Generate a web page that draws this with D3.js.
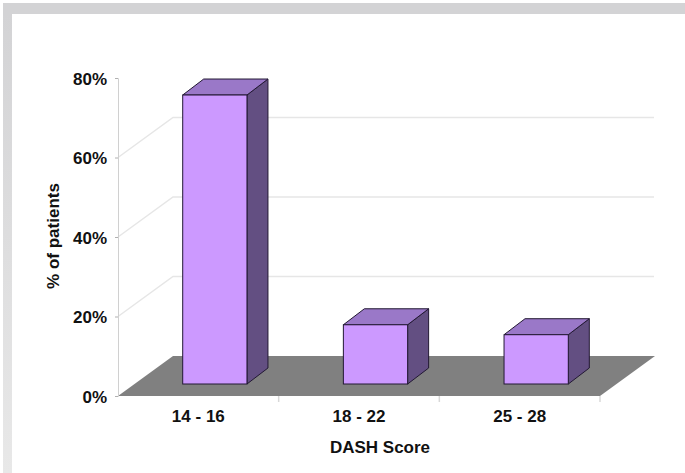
<!DOCTYPE html>
<html>
<head>
<meta charset="utf-8">
<script src="https://cdn.jsdelivr.net/npm/d3@7"></script>
<style>
  body { margin: 0; background: #fff; }
  text { font-family: Arial, "Liberation Sans", sans-serif; font-weight: bold; fill: #111; }
</style>
</head>
<body>
<div id="chartContainer"></div>
<script>
// chart data
var categories = ["14 - 16", "18 - 22", "25 - 28"];
var percentages = [0.727, 0.149, 0.124];
var tickValues = [0, 0.2, 0.4, 0.6, 0.8];
var gridValues = [0.2, 0.4, 0.6];

function init() {
    var w = 685;
    var h = 473;

    var svg = d3.select("#chartContainer")
                .append("svg")
                .attr("width", w)
                .attr("height", h);

    // gray frame (top + left, left one fades out downwards)
    var defs = svg.append("defs");
    var grad = defs.append("linearGradient")
                   .attr("id", "leftFade")
                   .attr("x1", 0).attr("y1", 0).attr("x2", 0).attr("y2", 1);
    grad.append("stop").attr("offset", "0%").attr("stop-color", "#d3d3d5");
    grad.append("stop").attr("offset", "100%").attr("stop-color", "#e8e8e8");

    svg.append("rect").attr("x", 3).attr("y", 3).attr("width", w - 3).attr("height", 11)
       .attr("fill", "#d3d3d5");
    svg.append("rect").attr("x", 3).attr("y", 14).attr("width", 9).attr("height", h - 14)
       .attr("fill", "url(#leftFade)");

    // scales
    var x = d3.scaleBand()
              .domain(categories)
              .range([118, 600]);

    var y = d3.scaleLinear()
              .domain([0, 0.8])
              .range([396, 78]);

    // 3D depth of the floor
    var depthX = 55, depthY = -40;
    var backRight = 654;

    // gridlines: diagonal on left wall, then flat along back wall
    svg.append("g")
       .selectAll("path")
       .data(gridValues)
       .enter()
       .append("path")
       .attr("d", d => "M" + x.range()[0] + "," + y(d) +
                       "L" + (x.range()[0] + depthX) + "," + (y(d) + depthY) +
                       "H" + backRight)
       .attr("fill", "none")
       .attr("stroke", "#e6e6e6")
       .attr("stroke-width", 1.5);

    // floor
    var x0 = x.range()[0], x1 = x.range()[1];
    svg.append("path")
       .attr("d", "M" + x0 + "," + y(0) +
                  "L" + (x0 + depthX) + "," + (y(0) + depthY) +
                  "L" + (x1 + depthX) + "," + (y(0) + depthY) +
                  "L" + x1 + "," + y(0) + "Z")
       .attr("fill", "#808080");

    // y axis
    var yAxis = d3.axisLeft(y)
                  .tickValues(tickValues)
                  .tickSize(3)
                  .tickPadding(8)
                  .tickFormat(d3.format(".0%"));

    var gy = svg.append("g")
                .attr("transform", "translate(" + x0 + ",0)")
                .call(yAxis);
    gy.select(".domain").attr("stroke", "#d0d0d0");
    gy.selectAll(".tick line").attr("stroke", "#b0b0b0");
    gy.selectAll(".tick text")
      .style("font-size", "17px")
      .attr("dy", "0.36em");

    // x axis
    var xAxis = d3.axisBottom(x)
                  .tickSize(0)
                  .tickPadding(14);
    var gx = svg.append("g")
                .attr("transform", "translate(0," + y(0) + ")")
                .call(xAxis);
    gx.select(".domain").remove();
    gx.selectAll(".tick text").style("font-size", "17px");

    // small separator ticks between categories
    var bounds = categories.map(c => x(c)).concat([x1]);
    svg.append("g")
       .selectAll("line")
       .data(bounds.slice(1))
       .enter()
       .append("line")
       .attr("x1", d => d).attr("x2", d => d)
       .attr("y1", y(0)).attr("y2", y(0) + 6)
       .attr("stroke", "#d8d8d8")
       .attr("stroke-width", 1.5);

    // 3D bars
    var frontZ = 0.3, barDX = 21, barDY = -16;
    var barW = x.bandwidth() * 0.4;

    var bars = svg.append("g")
                  .selectAll("g")
                  .data(categories)
                  .enter()
                  .append("g");

    function geom(c, i) {
        var left = x(c) + x.bandwidth() / 2 - barW / 2 + frontZ * depthX;
        var bottom = y(0) + frontZ * depthY;
        var top = bottom - (y(0) - y(percentages[i]));
        return {l: left, r: left + barW, b: bottom, t: top};
    }

    // side face
    bars.append("path")
        .attr("d", function(c, i) {
            var g = geom(c, i);
            return "M" + g.r + "," + g.b + "L" + g.r + "," + g.t +
                   "L" + (g.r + barDX) + "," + (g.t + barDY) +
                   "L" + (g.r + barDX) + "," + (g.b + barDY) + "Z";
        })
        .attr("fill", "#634f82")
        .attr("stroke", "#221833")
        .attr("stroke-width", 1)
        .attr("stroke-linejoin", "round");

    // top face
    bars.append("path")
        .attr("d", function(c, i) {
            var g = geom(c, i);
            return "M" + g.l + "," + g.t + "L" + (g.l + barDX) + "," + (g.t + barDY) +
                   "L" + (g.r + barDX) + "," + (g.t + barDY) +
                   "L" + g.r + "," + g.t + "Z";
        })
        .attr("fill", "#9a78c8")
        .attr("stroke", "#221833")
        .attr("stroke-width", 1)
        .attr("stroke-linejoin", "round");

    // front face
    bars.append("rect")
        .attr("x", (c, i) => geom(c, i).l)
        .attr("y", (c, i) => geom(c, i).t)
        .attr("width", barW)
        .attr("height", (c, i) => geom(c, i).b - geom(c, i).t)
        .attr("fill", "#cc99ff")
        .attr("stroke", "#221833")
        .attr("stroke-width", 1);

    // axis titles
    svg.append("text")
       .attr("x", 380)
       .attr("y", 453)
       .attr("text-anchor", "middle")
       .style("font-size", "17px")
       .text("DASH Score");

    svg.append("text")
       .attr("transform", "translate(59,236) rotate(-90)")
       .attr("text-anchor", "middle")
       .style("font-size", "17px")
       .text("% of patients");
}

window.onload = init;
</script>
</body>
</html>
